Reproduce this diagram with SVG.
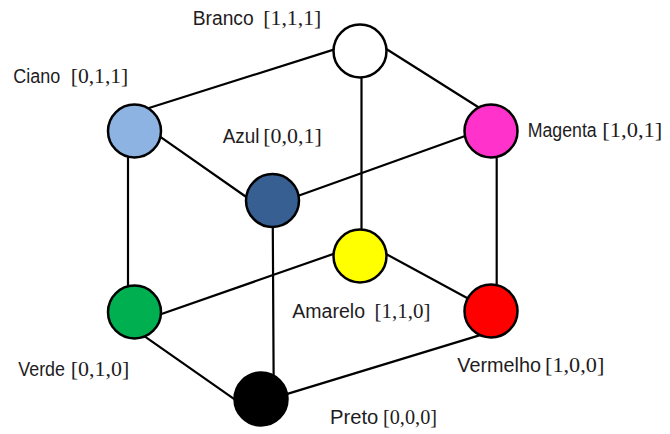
<svg xmlns="http://www.w3.org/2000/svg" width="670" height="434" viewBox="0 0 670 434">
  <style>
    .edge { stroke: #000; stroke-width: 2.2; fill: none; stroke-linecap: round; }
    .node circle { stroke: #000; stroke-width: 2.5; }
    .name { font-family: "Liberation Sans", Arial, sans-serif; font-size: 20px; fill: #1e1c1d; }
    .vec { font-family: "Liberation Serif", "Times New Roman", serif; font-size: 22px; fill: #1e1c1d; }
  </style>
  <rect width="670" height="434" fill="#fff"/>

  <!-- cube edges -->
  <g id="connectors">
    <line class="edge" x1="340" y1="47.6" x2="145" y2="109.3"/>
    <line class="edge" x1="380" y1="45" x2="486" y2="112"/>
    <line class="edge" x1="361.5" y1="60" x2="361.5" y2="245"/>
    <line class="edge" x1="155" y1="133.2" x2="252" y2="201"/>
    <line class="edge" x1="128" y1="140" x2="128" y2="300"/>
    <line class="edge" x1="470" y1="134.3" x2="290" y2="198.8"/>
    <line class="edge" x1="496.7" y1="140" x2="496.7" y2="300"/>
    <line class="edge" x1="272.7" y1="210" x2="273.7" y2="390"/>
    <line class="edge" x1="345" y1="249.9" x2="150" y2="318"/>
    <line class="edge" x1="375" y1="248" x2="480" y2="305"/>
    <line class="edge" x1="140" y1="333.2" x2="245" y2="406.6"/>
    <line class="edge" x1="280" y1="396.1" x2="485" y2="333.6"/>
  </g>

  <!-- vertices -->
  <g id="branco" class="node">
    <circle cx="360" cy="51" r="26.5" fill="#ffffff"/>
    <text class="name" x="192.7" y="25" textLength="61" lengthAdjust="spacingAndGlyphs">Branco</text>
    <text class="vec" x="263.3" y="25" textLength="58" lengthAdjust="spacingAndGlyphs">[1,1,1]</text>
  </g>
  <g id="ciano" class="node">
    <circle cx="134.5" cy="131" r="26.5" fill="#8db3e2"/>
    <text class="name" x="13.3" y="83.3" textLength="47" lengthAdjust="spacingAndGlyphs">Ciano</text>
    <text class="vec" x="70.7" y="83.3" textLength="57.6" lengthAdjust="spacingAndGlyphs">[0,1,1]</text>
  </g>
  <g id="magenta" class="node">
    <circle cx="491" cy="131" r="26.5" fill="#ff33cc"/>
    <text class="name" x="527.7" y="137.3" textLength="69" lengthAdjust="spacingAndGlyphs">Magenta</text>
    <text class="vec" x="602.3" y="137.3" textLength="60" lengthAdjust="spacingAndGlyphs">[1,0,1]</text>
  </g>
  <g id="azul" class="node">
    <circle cx="272.5" cy="200.5" r="26.5" fill="#375f91"/>
    <text class="name" x="222.7" y="143.3" textLength="36.7" lengthAdjust="spacingAndGlyphs">Azul</text>
    <text class="vec" x="263.3" y="143.3" textLength="58.4" lengthAdjust="spacingAndGlyphs">[0,0,1]</text>
  </g>
  <g id="amarelo" class="node">
    <circle cx="360" cy="256" r="26.5" fill="#ffff00"/>
    <text class="name" x="292.3" y="317.7" textLength="72.7" lengthAdjust="spacingAndGlyphs">Amarelo</text>
    <text class="vec" x="374.5" y="317.7" textLength="56" lengthAdjust="spacingAndGlyphs">[1,1,0]</text>
  </g>
  <g id="verde" class="node">
    <circle cx="134.5" cy="312" r="26.5" fill="#00b050"/>
    <text class="name" x="18.3" y="376" textLength="46.7" lengthAdjust="spacingAndGlyphs">Verde</text>
    <text class="vec" x="70.7" y="376" textLength="58.6" lengthAdjust="spacingAndGlyphs">[0,1,0]</text>
  </g>
  <g id="vermelho" class="node">
    <circle cx="491" cy="311" r="26.5" fill="#ff0000"/>
    <text class="name" x="457.3" y="372" textLength="83.7" lengthAdjust="spacingAndGlyphs">Vermelho</text>
    <text class="vec" x="545" y="372" textLength="59.3" lengthAdjust="spacingAndGlyphs">[1,0,0]</text>
  </g>
  <g id="preto" class="node">
    <circle cx="261" cy="399" r="26.5" fill="#000000"/>
    <text class="name" x="330" y="424.3" textLength="48.3" lengthAdjust="spacingAndGlyphs">Preto</text>
    <text class="vec" x="383" y="424.3" textLength="54" lengthAdjust="spacingAndGlyphs">[0,0,0]</text>
  </g>
</svg>
